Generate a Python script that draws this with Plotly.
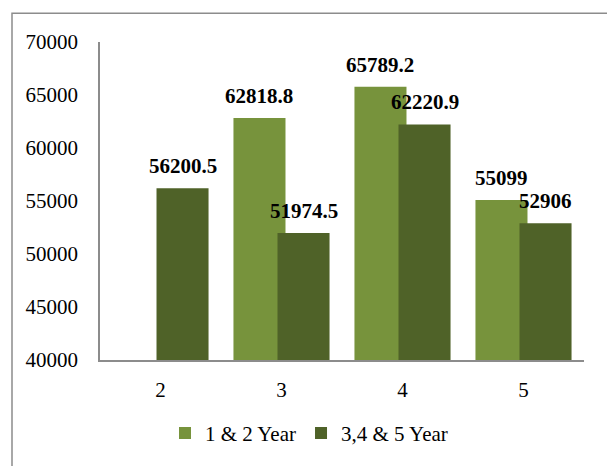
import plotly.graph_objects as go

categories = ["2", "3", "4", "5"]
series1_name = "1 & 2 Year"
series2_name = "3,4 & 5 Year"
series1 = [None, 62818.8, 65789.2, 55099]
series2 = [56200.5, 51974.5, 62220.9, 52906]
label1 = ["", "62818.8", "65789.2", "55099"]
label2 = ["56200.5", "51974.5", "62220.9", "52906"]
y_ticks = [40000, 45000, 50000, 55000, 60000, 65000, 70000]
y_tick_text = ["40000", "45000", "50000", "55000", "60000", "65000", "70000"]

c1 = "#77933C"
c2 = "#4F6228"
FONT = "Liberation Serif, Times New Roman, serif"
FS = 21

bw = 0.43
off1 = -0.397
off2 = -0.033

fig = go.Figure()
fig.add_trace(go.Bar(x=categories, y=series1, name=series1_name, marker_color=c1,
                     width=bw, offset=off1, marker_line_width=0))
fig.add_trace(go.Bar(x=categories, y=series2, name=series2_name, marker_color=c2,
                     width=bw, offset=off2, marker_line_width=0))

annotations = []
for i, (v, t) in enumerate(zip(series1, label1)):
    if v is None:
        continue
    annotations.append(dict(x=i + off1 + bw / 2, y=v, xref="x", yref="y", text=f"<b>{t}</b>",
                            showarrow=False, yanchor="middle", yshift=22,
                            font=dict(family=FONT, size=FS, color="black")))
for i, (v, t) in enumerate(zip(series2, label2)):
    annotations.append(dict(x=i + off2 + bw / 2, y=v, xref="x", yref="y", text=f"<b>{t}</b>",
                            showarrow=False, yanchor="middle", yshift=22,
                            font=dict(family=FONT, size=FS, color="black")))

L, R, T, B = 100, 23, 42, 103
W, H = 607, 466
pw, ph = W - L - R, H - T - B

def px_x(p):
    return (p - L) / pw

def px_y(p):
    return (H - B - p) / ph

fig.update_layout(
    width=W, height=H,
    margin=dict(l=L, r=R, t=T, b=B, pad=0),
    paper_bgcolor="white", plot_bgcolor="white",
    font=dict(family=FONT, size=FS, color="black"),
    barmode="group",
    showlegend=True,
    legend=dict(orientation="h", x=px_x(309), xanchor="center", y=px_y(437), yanchor="middle",
                font=dict(family=FONT, size=FS, color="black"), bgcolor="rgba(0,0,0,0)"),
    annotations=annotations,
    shapes=[dict(type="rect", xref="paper", yref="paper",
                 x0=px_x(12), x1=px_x(620), y0=px_y(480), y1=px_y(13),
                 line=dict(color="#8c8c8c", width=1.5), layer="below")],
    xaxis=dict(type="category", range=[-0.5, 3.5], showgrid=False, zeroline=False,
               showline=True, linecolor="#8c8c8c", linewidth=1.5, ticks="",
               ticklabelstandoff=10, tickfont=dict(family=FONT, size=FS, color="black")),
    yaxis=dict(range=[40000, 70000], tickvals=y_ticks, ticktext=y_tick_text,
               showgrid=False, zeroline=False,
               showline=True, linecolor="#8c8c8c", linewidth=1.5, ticks="",
               ticklabelstandoff=16, tickfont=dict(family=FONT, size=FS, color="black")),
)

fig.write_html("out.html")
